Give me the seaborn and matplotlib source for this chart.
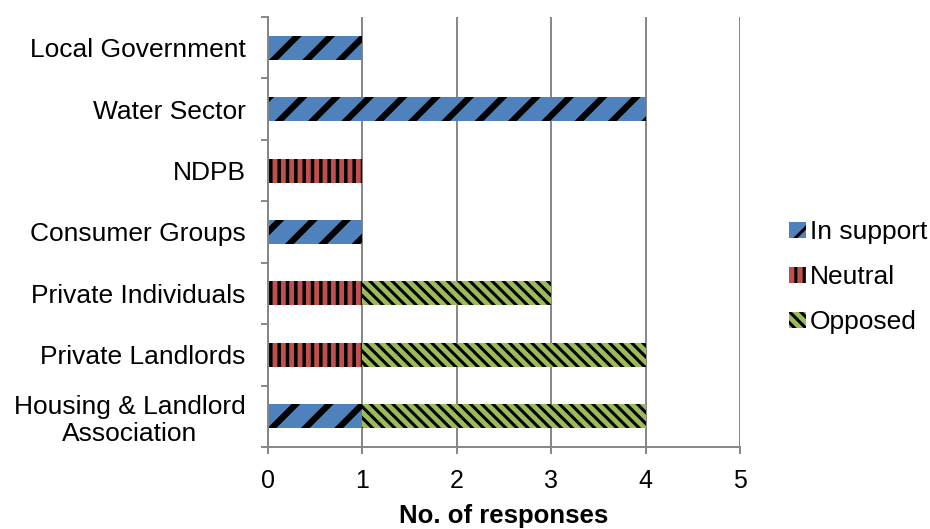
import numpy as np
import pandas as pd
import seaborn as sns
from matplotlib import pyplot as plt
from matplotlib.patches import Patch

categories = ["Local Government", "Water Sector", "NDPB", "Consumer Groups",
              "Private Individuals", "Private Landlords",
              "Housing & Landlord\nAssociation"]
in_support = [1, 4, 0, 1, 0, 0, 1]
neutral = [0, 0, 1, 0, 1, 1, 0]
opposed = [0, 0, 0, 0, 2, 3, 3]
x_ticks = [0, 1, 2, 3, 4, 5]

series = ["In support", "Neutral", "Opposed"]
colors = {"In support": "#4F81BD", "Neutral": "#C0504D", "Opposed": "#9BBB59"}
hatches = {"In support": "/", "Neutral": "||", "Opposed": "\\\\\\"}
hatch_lw = {"In support": 4.5, "Neutral": 2.5, "Opposed": 2.2}

sns.set_theme(style="white")
plt.rcParams["font.family"] = ["Liberation Sans", "DejaVu Sans"]
plt.rcParams["text.color"] = "black"
plt.rcParams["hatch.linewidth"] = 2.2

df = pd.DataFrame({"category": categories, "In support": in_support,
                   "Neutral": neutral, "Opposed": opposed})
# cumulative widths so stacked segments can be drawn back to front
df["cum_support"] = df["In support"]
df["cum_neutral"] = df["cum_support"] + df["Neutral"]
df["cum_opposed"] = df["cum_neutral"] + df["Opposed"]

fig = plt.figure(figsize=(9.3, 5.29), dpi=100)
ax = fig.add_axes([0.288, 0.155, 0.508, 0.813])

for name, col in [("Opposed", "cum_opposed"), ("Neutral", "cum_neutral"),
                  ("In support", "cum_support")]:
    n_before = len(ax.patches)
    sns.barplot(data=df, x=col, y="category", order=categories, orient="h",
                color=colors[name], saturation=1, width=0.39,
                hatch=hatches[name], edgecolor="black", linewidth=0, ax=ax)
    for p in ax.patches[n_before:]:
        if hasattr(p, "set_hatch_linewidth"):
            p.set_hatch_linewidth(hatch_lw[name])

ax.set_xlim(0, 5)
ax.set_ylim(6.5, -0.5)
ax.set_xticks(x_ticks)
ax.xaxis.grid(True, color="#868686", linewidth=1.4)
ax.set_axisbelow(True)
ax.set_ylabel("")
ax.set_xlabel("No. of responses", fontsize=18.5, fontweight="bold",
              labelpad=8, color="black")

for s in ["top", "right"]:
    ax.spines[s].set_visible(False)
for s in ["left", "bottom"]:
    ax.spines[s].set_color("#868686")
    ax.spines[s].set_linewidth(1.4)

ax.set_yticks(np.arange(len(categories)))
ax.set_yticklabels(categories, fontsize=19, linespacing=1.15,
                   multialignment="center")
ax.set_yticks(np.arange(-0.5, len(categories)), minor=True)
ax.tick_params(axis="y", which="major", length=0, pad=16, labelcolor="black")
ax.tick_params(axis="y", which="minor", length=5, width=1.4,
               color="#868686", left=True, direction="out")
ax.tick_params(axis="x", labelsize=18, length=5, width=1.4, labelcolor="black",
               color="#868686", bottom=True, direction="out", pad=11)

handles = []
for s in series:
    h = Patch(facecolor=colors[s], hatch=hatches[s], edgecolor="black",
              linewidth=0, label=s)
    if hasattr(h, "set_hatch_linewidth"):
        h.set_hatch_linewidth(hatch_lw[s])
    handles.append(h)
fig.legend(handles=handles, loc="center left", bbox_to_anchor=(0.848, 0.476),
           frameon=False, fontsize=19, handlelength=0.65, handleheight=0.55,
           handletextpad=0.15, labelspacing=0.8, borderpad=0, borderaxespad=0)

fig.savefig("out.png", dpi=100)
